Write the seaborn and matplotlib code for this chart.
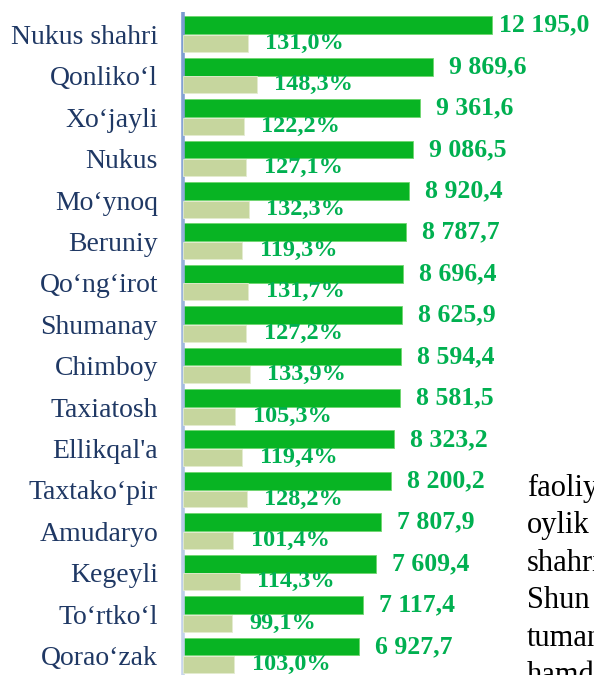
import numpy as np
import pandas as pd
import matplotlib
matplotlib.use("Agg")
import matplotlib.pyplot as plt
import matplotlib.colors as mcolors
from matplotlib.collections import LineCollection
import seaborn as sns

# data
districts = ["Nukus shahri", "Qonliko\u2018l", "Xo\u2018jayli", "Nukus", "Mo\u2018ynoq",
             "Beruniy", "Qo\u2018ng\u2018irot", "Shumanay", "Chimboy", "Taxiatosh",
             "Ellikqal'a", "Taxtako\u2018pir", "Amudaryo", "Kegeyli", "To\u2018rtko\u2018l",
             "Qorao\u2018zak"]
values = [12195.0, 9869.6, 9361.6, 9086.5, 8920.4, 8787.7, 8696.4, 8625.9,
          8594.4, 8581.5, 8323.2, 8200.2, 7807.9, 7609.4, 7117.4, 6927.7]
growth = [131.0, 148.3, 122.2, 127.1, 132.3, 119.3, 131.7, 127.2,
          133.9, 105.3, 119.4, 128.2, 101.4, 114.3, 99.1, 103.0]
side_text = ["faoliy", "oylik", "shahri", "Shun", "tuman", "hamd"]

dark_green = "#08b423"
light_green = "#c6d69e"
label_green = "#00b050"
navy = "#1f3864"
serif = "Liberation Serif"

def fmt_num(v):
    s = f"{v:,.1f}"
    return s.replace(",", " ").replace(".", ",")

rows = np.arange(len(districts))
df = pd.DataFrame({"district": districts, "value": values, "growth": growth,
                   "pos_v": rows - 0.22, "pos_g": rows + 0.22})

sns.set_style("white")
fig = plt.figure(figsize=(5.94, 6.75), dpi=100)
ax = fig.add_axes([183 / 594, 0, 411 / 594, 663 / 675])
ax2 = ax.twiny()

sns.barplot(data=df, x="value", y="pos_v", orient="h", native_scale=True,
            width=0.43, color=dark_green, saturation=1, ax=ax,
            edgecolor="#6fd66f", linewidth=0.6)
sns.barplot(data=df, x="growth", y="pos_g", orient="h", native_scale=True,
            width=0.41, color=light_green, saturation=1, ax=ax2,
            edgecolor="#e4ecd0", linewidth=0.6)

ax.set_xlim(0, 16220)
ax2.set_xlim(0, 827)
ax.set_ylim(15.47, -0.54)

for a in (ax, ax2):
    a.set_xlabel("")
    a.set_ylabel("")
    a.set_xticks([])
    for side in ["top", "right", "bottom", "left"]:
        a.spines[side].set_visible(False)
ax2.tick_params(axis="y", left=False, labelleft=False, right=False, labelright=False)

# axis line fading from blue at the top to pale blue at the bottom
n = 60
ys = np.linspace(1, 0, n + 1)
segs = [[(0, ys[k]), (0, ys[k + 1])] for k in range(n)]
cmap = mcolors.LinearSegmentedColormap.from_list("fade", ["#7b9bd0", "#c8d6ec"])
lc = LineCollection(segs, colors=cmap(np.linspace(0, 1, n)), linewidths=2.6,
                    transform=ax.transAxes, clip_on=False, zorder=5)
ax.add_collection(lc)

ax.set_yticks(rows)
ax.set_yticklabels(districts, fontsize=20, family=serif, color=navy)
ax.tick_params(axis="y", length=0, pad=18, labelleft=True)

val_texts = []
for i, v in enumerate(values):
    t = ax.annotate(fmt_num(v), (v, i - 0.22), xytext=(11.5, 0),
                    textcoords="offset points", va="center", ha="left",
                    fontsize=18.5, fontweight="bold", family=serif,
                    color=label_green, annotation_clip=False)
    val_texts.append(t)
for i, g in enumerate(growth):
    ax2.annotate(f"{g:.1f}".replace(".", ",") + "%", (g, i + 0.22), xytext=(12.5, 0),
                 textcoords="offset points", va="center", ha="left",
                 fontsize=17.5, fontweight="bold", family=serif,
                 color=label_green, annotation_clip=False)

# keep value labels inside the figure
fig.canvas.draw()
renderer = fig.canvas.get_renderer()
for t in val_texts:
    bb = t.get_window_extent(renderer)
    over = bb.x1 - (fig.bbox.width - 5)
    if over > 0:
        x, y = t.xyann
        t.xyann = (x - over * 72 / fig.dpi, y)

for k, line in enumerate(side_text):
    fig.text(527 / 594, 1 - (496 + 37.4 * k) / 675, line, fontsize=22,
             family=serif, color="black", va="baseline", ha="left")

fig.savefig("out.png", dpi=100)
